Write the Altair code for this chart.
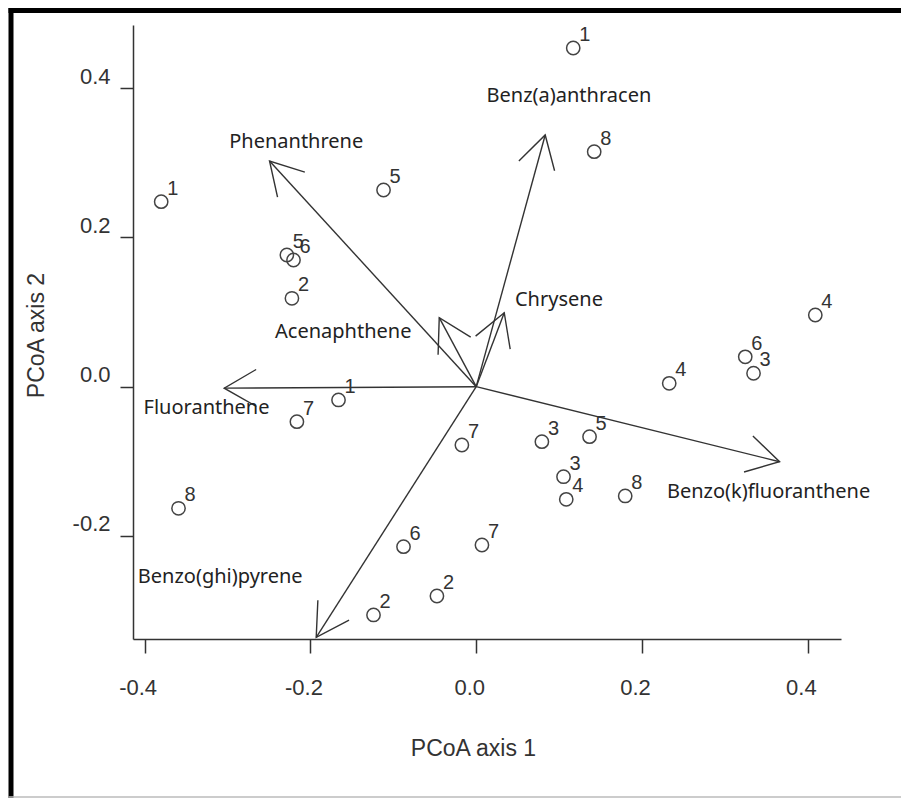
import math
import altair as alt
import pandas as pd

# ---- sample scores (PCoA axis 1, axis 2, sample label) ----
sample_x = [0.117, 0.1423, 0.409, 0.3245, 0.3345, 0.2328, -0.380, -0.1118,
            -0.2284, -0.2204, -0.2223, -0.1661, -0.2163, -0.0173, 0.0792, 0.1367,
            0.1053, 0.1086, 0.1797, 0.0069, -0.3591, -0.0877, -0.1239, -0.0474]
sample_y = [0.4537, 0.3148, 0.096, 0.040, 0.018, 0.0045, 0.2478, 0.2635,
            0.1764, 0.1697, 0.1184, -0.0178, -0.0469, -0.0781, -0.0737, -0.067,
            -0.1206, -0.1509, -0.1464, -0.2121, -0.1629, -0.2143, -0.3058, -0.2804]
sample_label = ["1", "8", "4", "6", "3", "4", "1", "5",
                "5", "6", "2", "1", "7", "7", "3", "5",
                "3", "4", "8", "7", "8", "6", "2", "2"]

# ---- PAH vectors (tip coordinates) and label anchors ----
vec_names = ["Phenanthrene", "Benz(a)anthracen", "Chrysene", "Acenaphthene",
             "Fluoranthene", "Benzo(k)fluoranthene", "Benzo(ghi)pyrene"]
vec_x = [-0.2493, 0.0832, 0.0338, -0.0446, -0.304, 0.3659, -0.193]
vec_y = [0.3023, 0.3372, 0.0991, 0.0924, -0.002, -0.1005, -0.3357]
vec_label_x = [-0.2171, 0.1118, 0.0998, -0.1604, -0.3253, 0.3526, -0.3088]
vec_label_y = [0.3278, 0.3894, 0.1161, 0.0729, -0.0281, -0.1407, -0.2545]

x_ticks = [-0.4, -0.2, 0.0, 0.2, 0.4]
y_ticks = [-0.2, 0.0, 0.2, 0.4]

X_DOMAIN = [-0.414, 0.440]
Y_DOMAIN = [-0.338, 0.4845]
W, H = 708, 614

px_x = W / (X_DOMAIN[1] - X_DOMAIN[0])
px_y = H / (Y_DOMAIN[1] - Y_DOMAIN[0])

samples = pd.DataFrame({"x": sample_x, "y": sample_y, "lab": sample_label})
vectors = pd.DataFrame({
    "name": vec_names,
    "x0": [0.0] * len(vec_names),
    "y0": [0.0] * len(vec_names),
    "x": vec_x,
    "y": vec_y,
    "lx": vec_label_x,
    "ly": vec_label_y,
})
vectors["ang"] = [
    math.degrees(math.atan2(xx * px_x, yy * px_y)) % 360 for xx, yy in zip(vec_x, vec_y)
]

xs = alt.Scale(domain=X_DOMAIN, nice=False, zero=False)
ys = alt.Scale(domain=Y_DOMAIN, nice=False, zero=False)

AX = dict(grid=False, domainColor="#333", domainWidth=1.5, tickColor="#333",
          tickWidth=1.5, labelFont="Liberation Sans", labelColor="#333",
          titleFont="Liberation Sans", titleColor="#333", titleFontWeight="normal")

x_axis = alt.Axis(values=x_ticks, format=".1f", tickSize=14, labelFontSize=22,
                  labelPadding=24, labelOffset=-7, titleFontSize=23,
                  labelExpr="replace(datum.label, '\u2212', '-')",
                  title="PCoA axis 1", titleY=109, titleX=340, titleBaseline="middle",
                  **AX)
y_axis = alt.Axis(values=y_ticks, format=".1f", tickSize=13, labelFontSize=22,
                  labelPadding=10, labelOffset=-12, labelBaseline="middle",
                  titleFontSize=23,
                  labelExpr="replace(datum.label, '\u2212', '-')",
                  title="PCoA axis 2", titleX=-97, titleY=310, titleBaseline="middle",
                  **AX)

base_s = alt.Chart(samples)
points = base_s.mark_point(shape="circle", size=177, filled=False, color="#444",
                           strokeWidth=1.5, opacity=1).encode(
    x=alt.X("x:Q", scale=xs, axis=x_axis),
    y=alt.Y("y:Q", scale=ys, axis=y_axis),
)
point_labels = base_s.mark_text(align="left", baseline="middle", dx=6, dy=-13,
                                font="Liberation Sans", fontSize=20,
                                color="#333").encode(
    x=alt.X("x:Q", scale=xs), y=alt.Y("y:Q", scale=ys), text="lab:N")

base_v = alt.Chart(vectors)
arrows = base_v.mark_rule(color="#333", strokeWidth=1.4).encode(
    x=alt.X("x0:Q", scale=xs), y=alt.Y("y0:Q", scale=ys),
    x2="x:Q", y2="y:Q")
heads = base_v.mark_point(shape="M -0.5 0.866 L 0 0 L 0.5 0.866", size=5476,
                          filled=False, color="#333", strokeWidth=1.4,
                          opacity=1).encode(
    x=alt.X("x:Q", scale=xs), y=alt.Y("y:Q", scale=ys),
    angle=alt.Angle("ang:Q", scale=None))
vec_labels = base_v.mark_text(font="Noto Sans", fontSize=20, color="#222",
                              align="center", baseline="middle").encode(
    x=alt.X("lx:Q", scale=xs), y=alt.Y("ly:Q", scale=ys), text="name:N")

frame_df = pd.DataFrame({"a": [0]})
frame_left = alt.Chart(frame_df).mark_rule(color="#000", strokeWidth=5).encode(
    x=alt.value(-122), y=alt.value(-17), y2=alt.value(775))
frame_top = alt.Chart(frame_df).mark_rule(color="#000", strokeWidth=5).encode(
    x=alt.value(-124.5), x2=alt.value(770), y=alt.value(-14.5))
frame_bottom = alt.Chart(frame_df).mark_rule(color="#bbb", strokeWidth=1.5).encode(
    x=alt.value(-124.5), x2=alt.value(770), y=alt.value(772))

chart = alt.layer(
    frame_left, frame_top, frame_bottom,
    arrows, heads, vec_labels, points, point_labels,
).properties(
    width=W, height=H,
    autosize=alt.AutoSizeParams(type="none"),
    padding={"left": 133, "top": 25, "right": 60, "bottom": 159},
    background="white",
).configure_view(stroke=None)

chart.save("out.html", embed_options={"renderer": "svg", "actions": False})
